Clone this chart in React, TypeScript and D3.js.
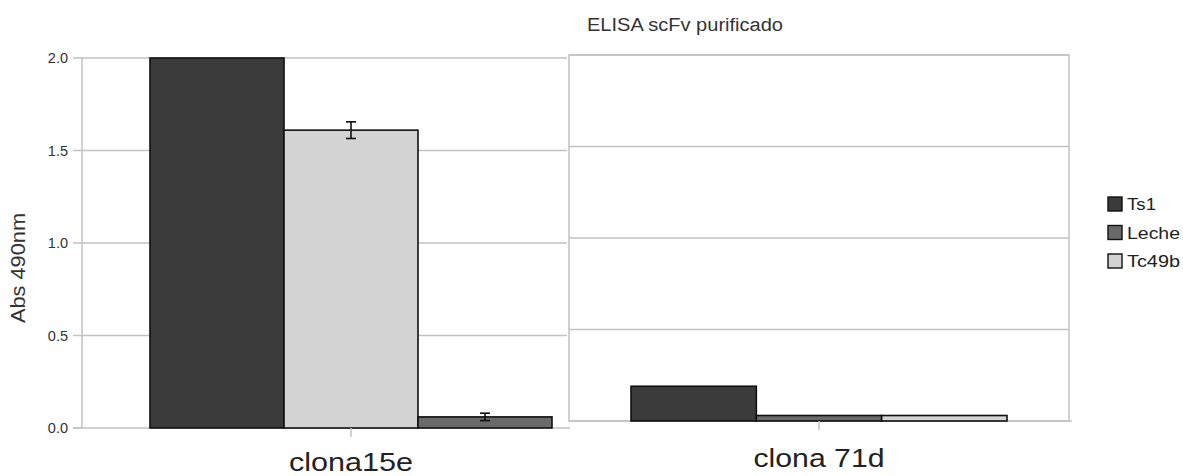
import * as d3 from "d3";
import { useEffect, useRef } from "react";

const groups = ["clona15e", "clona 71d"];
const seriesNames = ["Ts1", "Leche", "Tc49b"];
const ts1Values = [2.0, 0.19];
const lecheValues = [0.06, 0.03];
const tc49bValues = [1.61, 0.03];
const lecheErrors = [0.02, 0];
const tc49bErrors = [0.045, 0];
// bar order inside each group, as drawn in the original
const barOrder = [
  ["Ts1", "Tc49b", "Leche"],
  ["Ts1", "Leche", "Tc49b"],
];
const yTicks = [0, 0.5, 1.0, 1.5, 2.0];

const COLORS = { Ts1: "#3b3b3b", Leche: "#6a6a6a", Tc49b: "#d3d3d3" };
const GRID = "#c2c2c2";

// each clone has its own panel, with a slightly different vertical placement
const PANELS = [
  { x0: 82, x1: 567, top: 58, bottom: 428, barFrom: 150, barTo: 552, box: false, labelY: 471, labelLen: 124 },
  { x0: 569, x1: 1069, top: 55, bottom: 421, barFrom: 631, barTo: 1007, box: true, labelY: 467, labelLen: 131 },
];

export default function App() {
  const svgRef = useRef(null);

  useEffect(() => {
    const svg = d3.select(svgRef.current);
    svg.selectAll("*").remove();

    const values = { Ts1: ts1Values, Leche: lecheValues, Tc49b: tc49bValues };
    const errors = { Leche: lecheErrors, Tc49b: tc49bErrors };
    const font = "'Liberation Sans', Arial, sans-serif";

    PANELS.forEach((p, gi) => {
      const g = svg.append("g").attr("class", "panel");
      const y = d3.scaleLinear().domain([0, 2]).range([p.bottom, p.top]);

      g.selectAll("line.grid")
        .data(yTicks.filter((t) => t > 0))
        .join("line")
        .attr("class", "grid")
        .attr("x1", p.x0)
        .attr("x2", p.x1)
        .attr("y1", (d) => y(d))
        .attr("y2", (d) => y(d))
        .attr("stroke", GRID)
        .attr("stroke-width", 1.5);

      if (p.box) {
        g.append("rect")
          .attr("x", p.x0)
          .attr("y", y(2))
          .attr("width", p.x1 - p.x0)
          .attr("height", y(0) - y(2))
          .attr("fill", "none")
          .attr("stroke", GRID)
          .attr("stroke-width", 1.5);
      } else {
        g.append("line")
          .attr("x1", p.x0)
          .attr("x2", p.x0)
          .attr("y1", y(2))
          .attr("y2", y(0))
          .attr("stroke", GRID)
          .attr("stroke-width", 1.5);
        g.selectAll("line.ytick")
          .data(yTicks)
          .join("line")
          .attr("class", "ytick")
          .attr("x1", p.x0 - 9)
          .attr("x2", p.x0)
          .attr("y1", (d) => y(d))
          .attr("y2", (d) => y(d))
          .attr("stroke", GRID)
          .attr("stroke-width", 1.5);
        g.selectAll("text.ylab")
          .data(yTicks)
          .join("text")
          .attr("class", "ylab")
          .attr("x", p.x0 - 14)
          .attr("y", (d) => y(d))
          .attr("dy", "0.35em")
          .attr("text-anchor", "end")
          .attr("font-family", font)
          .attr("font-size", 14.5)
          .attr("fill", "#333")
          .text((d) => d3.format(".1f")(d));
      }

      // baseline
      g.append("line")
        .attr("x1", p.box ? p.x0 : p.x0 - 9)
        .attr("x2", p.x1 + 3)
        .attr("y1", y(0))
        .attr("y2", y(0))
        .attr("stroke", GRID)
        .attr("stroke-width", 1.5);

      const x = d3.scaleBand().domain(barOrder[gi]).range([p.barFrom, p.barTo]).padding(0);

      g.selectAll("rect.bar")
        .data(barOrder[gi])
        .join("rect")
        .attr("class", "bar")
        .attr("x", (s) => x(s))
        .attr("y", (s) => y(values[s][gi]))
        .attr("width", x.bandwidth())
        .attr("height", (s) => y(0) - y(values[s][gi]))
        .attr("fill", (s) => COLORS[s])
        .attr("stroke", "#111")
        .attr("stroke-width", 1.6);

      const errs = barOrder[gi].filter((s) => errors[s] && errors[s][gi] > 0);
      errs.forEach((s) => {
        const cx = x(s) + x.bandwidth() / 2;
        const v = values[s][gi];
        const e = errors[s][gi];
        const eg = g.append("g").attr("stroke", "#111").attr("stroke-width", 1.6);
        eg.append("line").attr("x1", cx).attr("x2", cx).attr("y1", y(v + e)).attr("y2", y(v - e));
        eg.append("line").attr("x1", cx - 5).attr("x2", cx + 5).attr("y1", y(v + e)).attr("y2", y(v + e));
        eg.append("line").attr("x1", cx - 5).attr("x2", cx + 5).attr("y1", y(v - e)).attr("y2", y(v - e));
      });

      const cx = (p.barFrom + p.barTo) / 2;
      g.append("line")
        .attr("x1", cx)
        .attr("x2", cx)
        .attr("y1", y(0))
        .attr("y2", y(0) + 9)
        .attr("stroke", GRID)
        .attr("stroke-width", 1.5);

      g.append("text")
        .attr("x", cx)
        .attr("y", p.labelY)
        .attr("text-anchor", "middle")
        .attr("font-family", font)
        .attr("font-size", 25)
        .attr("fill", "#222")
        .attr("textLength", p.labelLen)
        .attr("lengthAdjust", "spacingAndGlyphs")
        .text(groups[gi]);
    });

    svg
      .append("text")
      .attr("x", 685)
      .attr("y", 31)
      .attr("text-anchor", "middle")
      .attr("font-family", font)
      .attr("font-size", 18)
      .attr("fill", "#333")
      .attr("textLength", 196)
      .attr("lengthAdjust", "spacingAndGlyphs")
      .text("ELISA scFv purificado");

    svg
      .append("text")
      .attr("transform", "translate(25, 268) rotate(-90)")
      .attr("text-anchor", "middle")
      .attr("font-family", font)
      .attr("font-size", 20)
      .attr("fill", "#333")
      .attr("textLength", 110)
      .attr("lengthAdjust", "spacingAndGlyphs")
      .text("Abs 490nm");

    const legend = svg.append("g").attr("transform", "translate(1108, 197)");
    const rows = legend
      .selectAll("g")
      .data(seriesNames)
      .join("g")
      .attr("transform", (_, i) => `translate(0, ${i * 28.5})`);
    rows
      .append("rect")
      .attr("width", 14)
      .attr("height", 14)
      .attr("fill", (s) => COLORS[s])
      .attr("stroke", "#111")
      .attr("stroke-width", 1.4);
    rows
      .append("text")
      .attr("x", 19)
      .attr("y", 13)
      .attr("font-family", font)
      .attr("font-size", 16)
      .attr("fill", "#222")
      .attr("textLength", (s) => (s === "Ts1" ? 29 : 53))
      .attr("lengthAdjust", "spacingAndGlyphs")
      .text((s) => s);
  }, []);

  return (
    <svg
      ref={svgRef}
      width={1183}
      height={476}
      style={{ position: "absolute", left: 0, top: 0, background: "#fff" }}
    ></svg>
  );
}
